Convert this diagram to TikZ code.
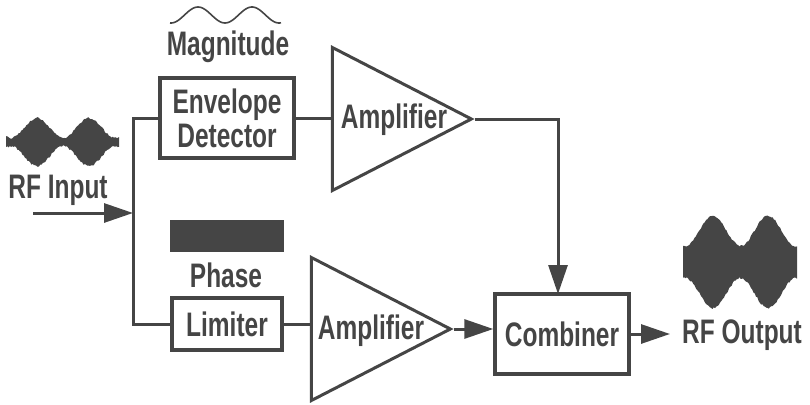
\documentclass[tikz,border=0pt]{standalone}
\usepackage{fontspec}
\setmainfont[FakeStretch=0.72]{Liberation Sans Bold}
\usetikzlibrary{arrows.meta,shapes.geometric}
\definecolor{ink}{gray}{0.27}
\tikzset{
  wire/.style={draw=ink, line width=3pt},
  flow/.style={wire, -{Triangle[length=29pt, width=19pt]}},
  blockbox/.style={draw=ink, line width=3.4pt, inner sep=0pt, align=center,
    font=\fontsize{34}{34}\selectfont, text=ink},
  ampbox/.style={draw=ink, line width=3pt, isosceles triangle, inner sep=0pt,
    isosceles triangle stretches, minimum width=143pt, minimum height=139pt},
  caption/.style={inner sep=0pt, font=\fontsize{34}{34}\selectfont, text=ink}
}
\begin{document}
\begin{tikzpicture}[x=1pt, y=-1pt]
  \useasboundingbox (0,0) rectangle (810,404);

  % waveforms
  \draw[ink, line width=1.6pt, domain=170:281, samples=80, smooth]
  plot (\x, {15-8*cos(6.667*(\x-198))});
  \fill[ink, domain=6:119, samples=90] plot (\x, {142-13-10*cos(6.923*(\x-37))-2*rnd})
  -- plot[domain=119:6] (\x, {142+13+10*cos(6.923*(\x-37))+2*rnd}) -- cycle;
  \fill[ink] (170,220) rectangle (284,252);
  \fill[ink, domain=683:797, samples=90] plot (\x, {262-30-15*cos(6.545*(\x-713))-2*rnd})
  -- plot[domain=797:683] (\x, {262+30+15*cos(6.545*(\x-713))+2*rnd}) -- cycle;

  % blocks
  \node[blockbox, minimum width=134pt, minimum height=80pt] (envelope) at (227,118)
  {Envelope\\Detector};
  \node[blockbox, minimum width=110pt, minimum height=52pt] (limiter) at (227,324) {Limiter};
  \node[ampbox] (amptop) at (376,119) {};
  \node[ampbox] (ampbot) at (355,329) {};
  \node[blockbox, minimum width=134pt, minimum height=80pt] (combiner) at (562,334) {Combiner};

  % labels
  \node[caption] (amplabeltop) at (394,120) {Amplifier};
  \node[caption] (amplabelbot) at (371,331) {Amplifier};
  \node[caption] (magnitude) at (228,47) {Magnitude};
  \node[caption] (input) at (58,190) {RF Input};
  \node[caption] (phase) at (226,275) {Phase};
  \node[caption] (output) at (742,335) {RF Output};

  % connectors
  \coordinate (source) at (33,213);
  \coordinate (branch) at (133,213);
  \coordinate (drop) at (558,294);
  \coordinate (outtip) at (670,334);
  \draw[flow] (source) -- (branch);
  \draw[wire] (envelope.west) -| (branch) |- (limiter.west);
  \draw[wire] (envelope.east) -- (envelope.east -| amptop.west);
  \draw[wire] (limiter.east) -- (limiter.east -| ampbot.west);
  \draw[flow] (amptop.east) -| (drop);
  \draw[flow] (ampbot.east) -- (ampbot.east -| combiner.west);
  \draw[flow] (combiner.east) -- (outtip);
\end{tikzpicture}
\end{document}
